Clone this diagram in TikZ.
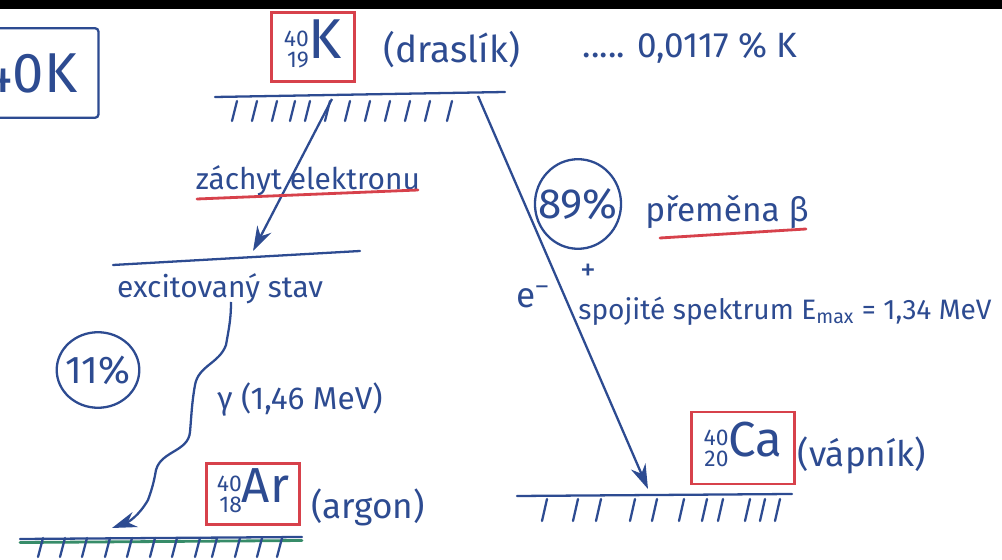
\documentclass[tikz,border=0pt]{standalone}
\usepackage{fontspec}
\setmainfont{Fira Sans}
\usetikzlibrary{arrows.meta,shapes.geometric}
\definecolor{ink}{RGB}{45,75,145}
\definecolor{redink}{RGB}{215,65,75}
\definecolor{greenink}{RGB}{55,140,105}
\newcommand{\fs}[1]{\fontsize{#1}{#1}\selectfont}
\newcommand{\iso}[3]{{\fs{13}\begin{tabular}{@{}r@{}}#1\\[-1pt]#2\end{tabular}}#3}
\tikzset{
  hand/.style={text=ink, inner sep=0pt, anchor=center},
  level/.style={draw=ink, line width=1.3pt, line cap=round},
  hatch/.style={draw=ink, line width=1.3pt, line cap=round},
  redbox/.style={draw=redink, line width=1.6pt, text=ink, inner sep=0pt},
  decay/.style={draw=ink, line width=1.3pt, -{Stealth[length=14pt,width=9pt]}},
  redline/.style={draw=redink, line width=1.6pt, line cap=round},
  ring/.style={draw=ink, line width=1.3pt}
}
\begin{document}
\begin{tikzpicture}[x=0.02cm,y=-0.02cm]
\useasboundingbox (0,0) rectangle (1002,560);
\begin{scope}
\clip (0,0) rectangle (1002,560);
\fill[white] (0,0) rectangle (1002,560);
\fill[black] (0,0) rectangle (1002,9);
% left box (cut off at the edge, as in the reference)
\node[draw=ink, line width=1.3pt, rounded corners=2pt, minimum width=78pt, minimum height=51pt, hand, font=\fs{32}] (k40) at (30,73) {40K};
\end{scope}

% top: potassium
\node[redbox, minimum width=47pt, minimum height=39pt, font=\fs{32}] (kbox) at (313,47) {\iso{40}{19}{K}};
\node[hand, font=\fs{21}] (drasl) at (452,50) {(draslík)};
\node[hand, font=\fs{20}] (abund) at (690,48) {..... 0,0117 \% K};

% top level
\coordinate (t1) at (215,97);
\coordinate (t2) at (505,92);
\draw[level] (t1) -- (t2);
\foreach \x in {232,252,272,290,305,325,345,365,385,405,425,447}
  \draw[hatch] (\x+5,101) -- (\x,121);

% electron capture branch
\coordinate (ecS) at (332,99);
\coordinate (ecE) at (253,251);
\draw[decay] (ecS) -- (ecE);
\node[hand, font=\fs{17}] (zach) at (308,181) {záchyt elektronu};
\coordinate (z1) at (197,199);
\coordinate (z2) at (418,190);
\draw[redline] (z1) -- (z2);

% excited state
\coordinate (m1) at (113,265);
\coordinate (m2) at (360,251);
\draw[level] (m1) -- (m2);
\node[hand, font=\fs{17}] (exc) at (220,289) {excitovaný stav};
\node[hand, font=\fs{22}] (p11) at (98,370) {11\%};
\draw[ring] (p11) ellipse [x radius=23.5pt, y radius=21.5pt];

% gamma
\coordinate (gS) at (231,302);
\coordinate (gE) at (112,528);
\draw[decay] (gS) to[out=-90,in=80] (226,345) to[out=-110,in=80] (195,385)
  to[out=-100,in=85] (190,432) to[out=-95,in=75] (156,470)
  to[out=-100,in=70] (148,500) to[out=-120,in=20] (gE);
\node[hand, font=\fs{18}] (gam) at (300,400) {γ (1,46 MeV)};

% argon
\node[redbox, minimum width=53pt, minimum height=35pt, font=\fs{28}] (arbox) at (253,494) {\iso{40}{18}{Ar}};
\node[hand, font=\fs{20}] (argon) at (368,507) {(argon)};
\coordinate (a1) at (20,539);
\coordinate (a2) at (302,537);
\draw[draw=greenink, line width=1.6pt, line cap=round] ([yshift=-2pt]a1) -- ([yshift=-2pt]a2);
\draw[level] (a1) -- (a2);
\foreach \x in {38,60,82,105,127,150,172,195,212,235,257,277}
  \draw[hatch] (\x+5,538) -- (\x,557);

% beta branch
\coordinate (bS) at (478,96);
\coordinate (bE) at (648,489);
\draw[decay] (bS) -- (bE);
\node[hand, font=\fs{24}] (p89) at (578,204) {89\%};
\draw[ring] (p89) ellipse [x radius=24.5pt, y radius=25.5pt];
\node[hand, font=\fs{19}] (prem) at (727,212) {přeměna β};
\coordinate (r1) at (660,238);
\coordinate (r2) at (806,229);
\draw[redline] (r1) -- (r2);
\node[hand, font=\fs{20}] (elec) at (533,297) {e\textsuperscript{--}};
\node[hand, font=\fs{18}] (plus) at (588,272) {+};
\node[hand, font=\fs{16}] (spek) at (785,311) {spojité spektrum E\textsubscript{max} = 1,34 MeV};

% calcium
\node[redbox, minimum width=59pt, minimum height=41pt, font=\fs{28}] (cabox) at (743,448) {\iso{40}{20}{Ca}};
\node[hand, font=\fs{20}] (vapnik) at (862,455) {(vápník)};
\coordinate (c1) at (517,496);
\coordinate (c2) at (792,494);
\draw[level] (c1) -- (c2);
\foreach \x in {542,573,596,630,652,679,702,718,745,760,775}
  \draw[hatch] (\x+5,499) -- (\x,521);
\end{tikzpicture}
\end{document}
